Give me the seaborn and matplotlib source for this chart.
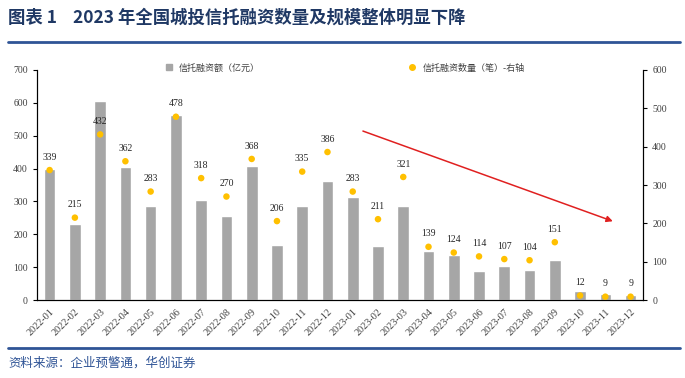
import numpy as np
import pandas as pd
import matplotlib
matplotlib.use("Agg")
import matplotlib.pyplot as plt
from matplotlib.lines import Line2D
import seaborn as sns

#monthly data
months = ["2022-01", "2022-02", "2022-03", "2022-04", "2022-05", "2022-06",
          "2022-07", "2022-08", "2022-09", "2022-10", "2022-11", "2022-12",
          "2023-01", "2023-02", "2023-03", "2023-04", "2023-05", "2023-06",
          "2023-07", "2023-08", "2023-09", "2023-10", "2023-11", "2023-12"]
amount = [400, 232, 607, 404, 287, 562, 306, 256, 407, 168, 287, 362,
          314, 164, 287, 150, 137, 89, 103, 91, 123, 27, 18, 15]  # 亿元, left axis
count = [339, 215, 432, 362, 283, 478, 318, 270, 368, 206, 335, 386,
         283, 211, 321, 139, 124, 114, 107, 104, 151, 12, 9, 9]  # 笔, right axis

df = pd.DataFrame({"month": months, "amount": amount, "count": count})
df["pos"] = np.arange(len(df))

sns.set_style("white")
plt.rcParams["font.family"] = ["Liberation Serif", "Noto Sans CJK SC", "DejaVu Sans"]
cjk = ["Noto Sans CJK SC", "DejaVu Sans"]

fig = plt.figure(figsize=(6.85, 3.78), dpi=100)
ax = fig.add_axes([0.054, 0.206, 0.885, 0.609])

#bars on the left axis
sns.barplot(data=df, x="month", y="amount", color="#A6A6A6", width=0.46,
            saturation=1, ax=ax)
ax.set_ylim(0, 700)
ax.set_yticks(range(0, 701, 100))
ax.set_xlim(-0.5, len(df) - 0.5)
ax.set_xlabel("")
ax.set_ylabel("")

#dots on the right axis
ax2 = ax.twinx()
sns.scatterplot(data=df, x="pos", y="count", color="#FFC000", s=22,
                edgecolor="none", ax=ax2, zorder=3)
ax2.set_ylim(0, 600)
ax2.set_yticks(range(0, 601, 100))
ax2.set_xlim(-0.5, len(df) - 0.5)
ax2.set_ylabel("")

#data labels above the dots
for p, c in zip(df["pos"], df["count"]):
    ax2.annotate(str(c), (p, c), xytext=(0, 6), textcoords="offset points",
                 ha="center", va="bottom", fontsize=7, color="#262626")

#spines and ticks
for a in (ax, ax2):
    a.spines["top"].set_visible(False)
    for s in ("left", "right", "bottom"):
        a.spines[s].set_color("#000000")
        a.spines[s].set_linewidth(0.8)
ax.tick_params(axis="y", direction="out", length=3, labelsize=7, colors="#404040")
ax2.tick_params(axis="y", direction="out", length=3, labelsize=7, colors="#404040")
ax.yaxis.set_tick_params(color="black")
ax2.yaxis.set_tick_params(color="black")
ax.set_xticks(df["pos"])
ax.set_xticklabels(months, rotation=45, ha="right", rotation_mode="anchor",
                   fontsize=7.3, color="#404040")
ax.tick_params(axis="x", length=0, pad=5)
ax.set_xticks(np.arange(-0.5, len(df)), minor=True)
ax.tick_params(axis="x", which="minor", length=3, direction="out", color="black")

#trend arrow
ax.annotate("", xy=(22.4, 237), xytext=(12.3, 517), xycoords="data",
            arrowprops=dict(arrowstyle="-|>", color="#E02020", lw=1.1,
                            mutation_scale=9))

#legend above the plot
fig.legend(handles=[Line2D([], [], marker="s", ls="", color="#A6A6A6", markersize=4)],
           labels=["信托融资额（亿元）"], loc="center left", bbox_to_anchor=(0.222, 0.82),
           frameon=False, prop={"family": cjk, "size": 6.5}, handletextpad=0.1,
           labelcolor="#404040")
fig.legend(handles=[Line2D([], [], marker="o", ls="", color="#FFC000", markersize=4)],
           labels=["信托融资数量（笔）-右轴"], loc="center left", bbox_to_anchor=(0.577, 0.82),
           frameon=False, prop={"family": cjk, "size": 6.5}, handletextpad=0.1,
           labelcolor="#404040")

#title, rules and source
fig.text(0.012, 0.953, "图表 1    2023 年全国城投信托融资数量及规模整体明显下降",
         family=cjk, fontsize=12.5, fontweight="bold", color="#1F3864", va="center")
fig.add_artist(Line2D([0.012, 0.993], [0.888, 0.888], color="#2F5496", lw=2))
fig.add_artist(Line2D([0.012, 0.993], [0.08, 0.08], color="#2F5496", lw=2))
fig.text(0.012, 0.04, "资料来源：企业预警通，华创证券", family=cjk, fontsize=9,
         color="#2F5496", va="center", style="italic")

fig.savefig("out.png", dpi=100)
